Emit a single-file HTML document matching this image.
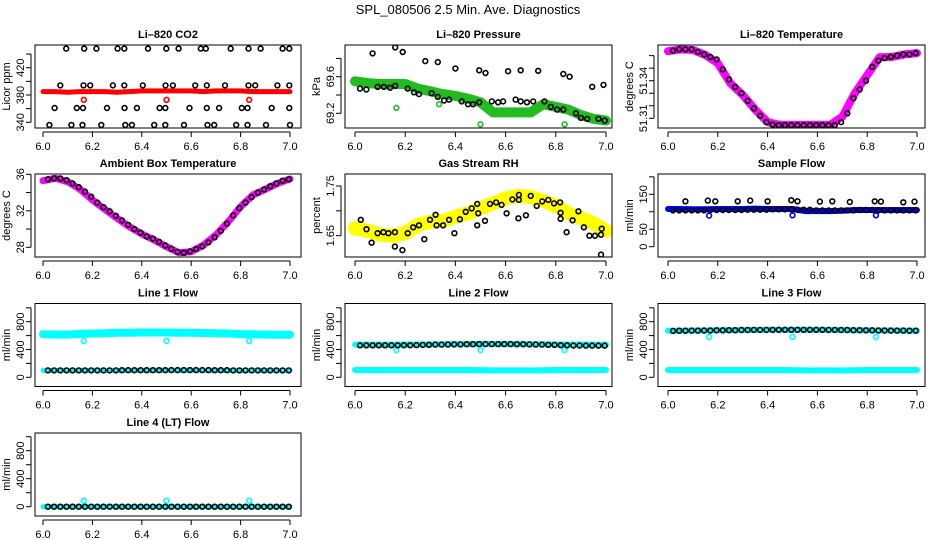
<!DOCTYPE html>
<html><head><meta charset="utf-8"><style>
html,body{margin:0;padding:0;background:#fff;}
svg{display:block;font-family:"Liberation Sans",Arial,sans-serif;}
</style></head><body>
<svg id="chart" width="936" height="540" viewBox="0 0 936 540">
<text x="468" y="14" text-anchor="middle" font-size="13">SPL_080506  2.5 Min. Ave. Diagnostics</text>
</svg>
<script>
// ---- shared x arrays ----
const bandX = [6.0,6.05,6.1,6.15,6.2,6.25,6.3,6.35,6.4,6.45,6.5,6.55,6.6,6.65,6.7,6.75,6.8,6.85,6.9,6.95,7.0];
const circX = [6.02,6.045,6.07,6.095,6.12,6.145,6.17,6.195,6.22,6.245,6.27,6.295,6.32,6.345,6.37,6.395,6.42,6.445,6.47,6.495,6.52,6.545,6.57,6.595,6.62,6.645,6.67,6.695,6.72,6.745,6.77,6.795,6.82,6.845,6.87,6.895,6.92,6.945,6.97,6.995];
const outlierX = [6.165,6.5,6.835];
const xTicks = [6.0,6.2,6.4,6.6,6.8,7.0];
const xTickLabels = ["6.0","6.2","6.4","6.6","6.8","7.0"];

// ---- Li-820 CO2 ----
const co2Band = [385,385,384,385,385,385,384,385,386,386,386,386,386,385,386,386,386,385,385,385,385];
const co2RedOut = [373,373,373];
const co2BlackX = [6.094,6.167,6.216,6.302,6.329,6.425,6.499,6.549,6.639,6.659,6.760,6.832,6.881,6.970,6.997,
 6.070,6.164,6.191,6.283,6.329,6.404,6.496,6.526,6.616,6.663,6.737,6.832,6.859,6.949,6.997,
 6.047,6.137,6.162,6.259,6.330,6.380,6.472,6.495,6.593,6.663,6.713,6.805,6.828,6.926,6.997,
 6.026,6.115,6.160,6.236,6.333,6.360,6.450,6.495,6.571,6.666,6.693,6.782,6.828,6.903,7.0];
const co2BlackY = [448,448,448,448,448,448,448,448,448,448,448,448,448,448,448,
 394,394,394,394,394,394,394,394,394,394,394,394,394,394,394,
 361,361,361,361,361,361,361,361,361,361,361,361,361,361,361,
 336,336,336,336,336,336,336,336,336,336,336,336,336,336,336];

// ---- Li-820 Pressure ----
const presBand = [69.55,69.53,69.52,69.52,69.52,69.47,69.44,69.41,69.39,69.36,69.32,69.21,69.21,69.21,69.21,69.30,69.27,69.24,69.18,69.14,69.12];
const presGreenOut = [69.26,69.30,69.08,69.08];
const presGreenOutX = [6.165,6.335,6.5,6.835];
const presBlackX = [6.07,6.16,6.19,6.28,6.33,6.40,6.495,6.52,6.61,6.66,6.73,6.83,6.855,6.945,6.99,
 6.02,6.045,6.09,6.115,6.14,6.16,6.21,6.235,6.255,6.305,6.33,6.355,6.375,6.425,6.45,6.47,6.495,6.545,6.57,6.59,6.64,6.66,6.685,6.71,6.755,6.78,6.805,6.83,6.88,6.9,6.925,6.97,6.995];
const presBlackY = [69.855,69.92,69.87,69.77,69.76,69.69,69.67,69.64,69.66,69.67,69.665,69.63,69.60,69.49,69.51,
 69.47,69.46,69.49,69.49,69.48,69.50,69.47,69.43,69.41,69.42,69.38,69.34,69.35,69.33,69.30,69.30,69.32,69.33,69.32,69.33,69.35,69.33,69.32,69.33,69.33,69.27,69.24,69.24,69.20,69.15,69.14,69.14,69.12];

// ---- Li-820 Temperature ----
const ltBand = [51.3635,51.365,51.3645,51.3605,51.354,51.338,51.3286,51.317,51.307,51.3047,51.3047,51.3047,51.3047,51.3047,51.3113,51.330,51.3445,51.3587,51.359,51.361,51.362];
const ltBlack = [51.364,51.365,51.365,51.365,51.363,51.361,51.359,51.357,51.349,51.341,51.335,51.330,51.324,51.318,51.312,51.307,51.305,51.3045,51.3045,51.3045,51.3045,51.3045,51.3045,51.3045,51.3045,51.3045,51.3045,51.307,51.314,51.326,51.333,51.340,51.351,51.356,51.358,51.359,51.360,51.361,51.361,51.362];

// ---- Ambient Box Temperature ----
const ambBand = [35.3,35.56,35.19,34.36,33.18,32.16,31.18,30.26,29.46,28.8,28.07,27.41,27.52,28.25,29.35,30.81,32.45,33.73,34.36,35.01,35.48];
const ambBlack = [35.45,35.55,35.55,35.35,35.0,34.6,34.1,33.55,32.9,32.4,31.95,31.45,30.95,30.45,30.0,29.6,29.2,28.95,28.6,28.2,27.85,27.5,27.4,27.55,27.8,28.1,28.55,29.1,29.8,30.6,31.5,32.3,32.9,33.5,34.0,34.35,34.7,35.0,35.3,35.45];

// ---- Gas Stream RH ----
const rhBand = [1.665,1.66,1.652,1.65,1.655,1.672,1.678,1.680,1.688,1.695,1.705,1.715,1.725,1.73,1.728,1.72,1.71,1.695,1.685,1.675,1.66];
const rhBlackX = [6.023,6.046,6.066,6.090,6.113,6.133,6.159,6.159,6.189,6.210,6.232,6.255,6.276,6.299,6.321,6.325,6.351,6.375,6.396,6.418,6.441,6.465,6.487,6.487,6.491,6.518,6.538,6.562,6.584,6.604,6.627,6.651,6.653,6.653,6.681,6.700,6.724,6.746,6.770,6.793,6.817,6.819,6.819,6.843,6.867,6.890,6.912,6.934,6.956,6.980,6.983,6.980];
const rhBlackY = [1.682,1.663,1.636,1.655,1.657,1.655,1.657,1.628,1.621,1.655,1.667,1.671,1.643,1.682,1.692,1.671,1.671,1.682,1.655,1.683,1.698,1.705,1.671,1.714,1.695,1.680,1.714,1.717,1.712,1.695,1.723,1.685,1.732,1.722,1.691,1.730,1.710,1.719,1.722,1.715,1.717,1.696,1.684,1.657,1.681,1.699,1.667,1.650,1.650,1.652,1.664,1.612];

// ---- Sample Flow ----
const sfBand = [108,108,107,107,108,108,108,109,108,108,108,102,102,102,103,105,105,105,105,105,105];
const sfBlueOut = [89,90,90];
const sfBlackLow = [104,104,104,104,104,104,105,105,105,105,105,105,106,106,106,106,107,107,107,107,106,106,106,104,104,104,104,104,104,104,105,105,105,104,104,104,104,104,104,104];
const sfUpperX = [6.07,6.16,6.19,6.28,6.33,6.40,6.495,6.52,6.61,6.66,6.73,6.83,6.855,6.945,6.99];
const sfUpperY = [130,132,130,130,132,130,133,130,129,130,128,130,129,127,129];

// ---- Line flows ----
const l1BandHi = [620,615,615,625,630,635,640,642,645,645,645,642,640,638,635,630,622,618,615,612,612];
const l1BandLo = [100,100,100,100,100,100,100,100,100,100,102,102,102,100,98,98,98,100,100,100,100];
const l1CyanOut = [522,522,522];
const l1Black = [100,100,100,100,100,100,100,100,100,100,100,100,102,102,102,102,102,102,102,102,104,104,104,104,104,104,104,102,102,102,100,100,100,100,100,100,100,100,100,100];

const l2BandHi = [470,470,470,470,470,472,474,476,478,478,480,480,478,478,476,474,472,470,470,468,468];
const l2BandLo = [105,105,105,105,105,105,105,105,105,105,103,100,100,100,100,102,105,105,105,105,105];
const l2CyanOut = [393,393,393];
const l2Black = [460,460,460,460,460,460,460,462,462,464,466,468,470,470,472,474,474,476,476,478,478,478,478,478,478,476,476,474,472,470,468,466,462,460,458,458,456,456,456,456];

const l3BandHi = [670,672,672,674,676,678,680,682,684,684,684,684,684,682,680,678,676,674,674,672,672];
const l3BandLo = [105,105,105,105,105,105,105,105,105,105,103,100,100,100,100,102,105,105,105,105,105];
const l3CyanOut = [580,580,580];
const l3Black = [668,670,670,672,672,674,674,676,676,678,678,680,680,682,682,682,684,684,684,684,684,684,684,684,684,682,682,680,680,678,678,676,676,674,674,672,672,672,670,670];

const l4Band = [0,0,0,0,0,0,0,0,0,0,0,0,0,0,0,0,0,0,0,0,0];
const l4CyanOut = [86,86,86];
const l4Black = [0,0,0,0,0,0,0,0,0,0,0,0,0,0,0,0,0,0,0,0,0,0,0,0,0,0,0,0,0,0,0,0,0,0,0,0,0,0,0,0];

// ---------- rendering ----------
const NS = "http://www.w3.org/2000/svg";
const svg = document.getElementById('chart');
function mk(tag, attrs, parent){
  const e = document.createElementNS(NS, tag);
  for (const k in attrs) e.setAttribute(k, attrs[k]);
  (parent||svg).appendChild(e);
  return e;
}
const colLeft = [35,345,658], colW = [266,267,267];
const colX0 = [43,355,668], colX1 = [290,606,917];
const rowTop = [45,174,303.5,433], boxH = 83;

function makePanel(o){
  const L = colLeft[o.col], W = colW[o.col], T = rowTop[o.row];
  const g = mk('g', {});
  
  
  const xs = v => colX0[o.col] + (v-6)*(colX1[o.col]-colX0[o.col]);
  const ys = v => T + o.p0 + (v-o.v0)*(o.p1-o.p0)/(o.v1-o.v0);
  const cid = 'clip-'+o.name;
  const cp = mk('clipPath', {id:cid}, g);
  mk('rect', {x:L, y:T, width:W, height:boxH}, cp);
  const plot = mk('g', {'clip-path':'url(#'+cid+')'}, g);
  
  
  // bands
  (o.bands||[]).forEach(b => {
    const pts = b.x.map((xv,i) => xs(xv).toFixed(1)+','+ys(b.y[i]).toFixed(1)).join(' ');
    const pl = mk('polyline', {points:pts, fill:'none', stroke:b.color, 'stroke-width':b.w, 'stroke-linejoin':'round', 'stroke-linecap':'round'}, plot);
    
    
  });
  // points
  (o.points||[]).forEach(s => {
    const sg = mk('g', {fill:'none', stroke:s.color, 'stroke-width':1.6}, plot);
    
    
    s.x.forEach((xv,i) => {
      const c = mk('circle', {cx:xs(xv).toFixed(1), cy:ys(s.y[i]).toFixed(1), r:2.4}, sg);
      
      
    });
  });
  // box
  const box = mk('rect', {x:L, y:T, width:W, height:boxH, fill:'none', stroke:'#000', 'stroke-width':1}, g);
  
  
  // title
  const t = mk('text', {x:L+W/2, y:T-7, 'text-anchor':'middle', 'font-size':11, 'font-weight':'bold'}, g);
  t.textContent = o.title;
  
  
  // x axis
  const xa = mk('g', {}, g);
  
  
  mk('line', {x1:xs(xTicks[0]), x2:xs(xTicks[xTicks.length-1]), y1:T+boxH+4, y2:T+boxH+4, stroke:'#000'}, xa);
  xTicks.forEach((v,i) => {
    mk('line', {x1:xs(v), x2:xs(v), y1:T+boxH+4, y2:T+boxH+9, stroke:'#000'}, xa);
    const tl = mk('text', {x:xs(v), y:T+boxH+22, 'text-anchor':'middle', 'font-size':11}, xa);
    tl.textContent = xTickLabels[i];
    
    
  });
  // y axis
  const ya = mk('g', {}, g);
  
  
  const yt0 = ys(o.ticks[0]), yt1 = ys(o.ticks[o.ticks.length-1]);
  mk('line', {x1:L-4, x2:L-4, y1:yt0, y2:yt1, stroke:'#000'}, ya);
  o.ticks.forEach(v => {
    mk('line', {x1:L-4, x2:L-9, y1:ys(v), y2:ys(v), stroke:'#000'}, ya);
  });
  o.labels.forEach((lab,i) => {
    const y = ys(o.labelVals[i]);
    const tl = mk('text', {x:L-11, y:y, 'text-anchor':'middle', 'font-size':11, transform:'rotate(-90 '+(L-11)+' '+y+')'}, ya);
    tl.textContent = lab;
    
    
  });
  const yl = mk('text', {x:L-25, y:T+boxH/2, 'text-anchor':'middle', 'font-size':11, transform:'rotate(-90 '+(L-25)+' '+(T+boxH/2)+')'}, ya);
  yl.textContent = o.ylab;
  
  
}

const flowTicks = [0,200,400,600,800,1000];
const flowLabels = ["0","400","800"], flowLabelVals = [0,400,800];

makePanel({name:'co2-panel', title:'Li\u2013820 CO2', col:0,row:0, v0:340,p0:77.3,v1:420,p1:22.7, ylab:'Licor ppm',
  ticks:[340,360,380,400,420,440], labels:["340","380","420"], labelVals:[340,380,420],
  bands:[{name:'co2-red-band', x:bandX, y:co2Band, color:'#ff0000', w:5}],
  points:[{name:'co2-red-outliers', x:outlierX, y:co2RedOut, color:'#ff0000'},
          {name:'co2-black-points', x:co2BlackX, y:co2BlackY, color:'#000'}]});

makePanel({name:'pressure-panel', title:'Li\u2013820 Pressure', col:1,row:0, v0:69.2,p0:68.3,v1:69.6,p1:31.7, ylab:'kPa',
  ticks:[69.2,69.4,69.6,69.8], labels:["69.2","69.6"], labelVals:[69.2,69.6],
  bands:[{name:'pressure-green-band', x:bandX, y:presBand, color:'#22bb22', w:10}],
  points:[{name:'pressure-green-outliers', x:presGreenOutX, y:presGreenOut, color:'#22bb22'},
          {name:'pressure-black-points', x:presBlackX, y:presBlackY, color:'#000'}]});

makePanel({name:'li820-temp-panel', title:'Li\u2013820 Temperature', col:2,row:0, v0:51.31,p0:73.3,v1:51.34,p1:35.7, ylab:'degrees C',
  ticks:[51.31,51.32,51.33,51.34,51.35,51.36], labels:["51.31","51.34"], labelVals:[51.31,51.34],
  bands:[{name:'li820-temp-magenta-band', x:bandX, y:ltBand, color:'#ff00ff', w:8}],
  points:[{name:'li820-temp-black-points', x:circX, y:ltBlack, color:'#000'}]});

makePanel({name:'ambient-temp-panel', title:'Ambient Box Temperature', col:0,row:1, v0:28,p0:73.3,v1:36,p1:0.3, ylab:'degrees C',
  ticks:[28,30,32,34,36], labels:["28","32","36"], labelVals:[28,32,36],
  bands:[{name:'ambient-magenta-band', x:bandX, y:ambBand, color:'#ff00ff', w:7}],
  points:[{name:'ambient-black-points', x:circX, y:ambBlack, color:'#000'}]});

makePanel({name:'rh-panel', title:'Gas Stream RH', col:1,row:1, v0:1.65,p0:61.7,v1:1.75,p1:12, ylab:'percent',
  ticks:[1.65,1.70,1.75], labels:["1.65","1.75"], labelVals:[1.65,1.75],
  bands:[{name:'rh-yellow-band', x:bandX, y:rhBand, color:'#ffff00', w:14}],
  points:[{name:'rh-black-points', x:rhBlackX, y:rhBlackY, color:'#000'}]});

makePanel({name:'sample-flow-panel', title:'Sample Flow', col:2,row:1, v0:0,p0:72.7,v1:150,p1:20.3, ylab:'ml/min',
  ticks:[0,50,100,150,200], labels:["0","50","150"], labelVals:[0,50,150],
  bands:[{name:'sample-flow-blue-band', x:bandX, y:sfBand, color:'#0000ff', w:6}],
  points:[{name:'sample-flow-blue-outliers', x:outlierX, y:sfBlueOut, color:'#0000ff'},
          {name:'sample-flow-black-points', x:circX, y:sfBlackLow, color:'#000'},
          {name:'sample-flow-black-high', x:sfUpperX, y:sfUpperY, color:'#000'}]});

makePanel({name:'line1-flow-panel', title:'Line 1 Flow', col:0,row:2, v0:0,p0:73.8,v1:800,p1:18.2, ylab:'ml/min',
  ticks:flowTicks, labels:flowLabels, labelVals:flowLabelVals,
  bands:[{name:'line1-cyan-high-band', x:bandX, y:l1BandHi, color:'#00ffff', w:8},
         {name:'line1-cyan-low-band', x:bandX, y:l1BandLo, color:'#00ffff', w:5}],
  points:[{name:'line1-cyan-outliers', x:outlierX, y:l1CyanOut, color:'#00ffff'},
          {name:'line1-black-points', x:circX, y:l1Black, color:'#000'}]});

makePanel({name:'line2-flow-panel', title:'Line 2 Flow', col:1,row:2, v0:0,p0:73.8,v1:800,p1:18.2, ylab:'ml/min',
  ticks:flowTicks, labels:flowLabels, labelVals:flowLabelVals,
  bands:[{name:'line2-cyan-high-band', x:bandX, y:l2BandHi, color:'#00ffff', w:6},
         {name:'line2-cyan-low-band', x:bandX, y:l2BandLo, color:'#00ffff', w:6}],
  points:[{name:'line2-cyan-outliers', x:outlierX, y:l2CyanOut, color:'#00ffff'},
          {name:'line2-black-points', x:circX, y:l2Black, color:'#000'}]});

makePanel({name:'line3-flow-panel', title:'Line 3 Flow', col:2,row:2, v0:0,p0:73.8,v1:800,p1:18.2, ylab:'ml/min',
  ticks:flowTicks, labels:flowLabels, labelVals:flowLabelVals,
  bands:[{name:'line3-cyan-high-band', x:bandX, y:l3BandHi, color:'#00ffff', w:6},
         {name:'line3-cyan-low-band', x:bandX, y:l3BandLo, color:'#00ffff', w:6}],
  points:[{name:'line3-cyan-outliers', x:outlierX, y:l3CyanOut, color:'#00ffff'},
          {name:'line3-black-points', x:circX, y:l3Black, color:'#000'}]});

makePanel({name:'line4-flow-panel', title:'Line 4 (LT) Flow', col:0,row:3, v0:0,p0:73.7,v1:800,p1:17.7, ylab:'ml/min',
  ticks:flowTicks, labels:flowLabels, labelVals:flowLabelVals,
  bands:[{name:'line4-cyan-band', x:bandX, y:l4Band, color:'#00ffff', w:5}],
  points:[{name:'line4-cyan-outliers', x:outlierX, y:l4CyanOut, color:'#00ffff'},
          {name:'line4-black-points', x:circX, y:l4Black, color:'#000'}]});
</script>
</body></html>
